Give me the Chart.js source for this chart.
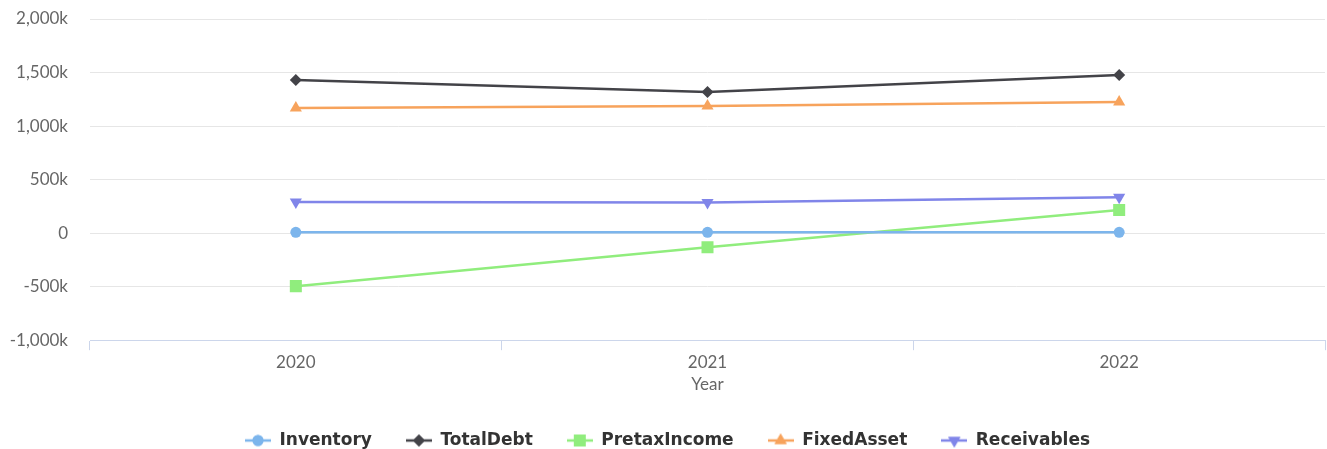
<!DOCTYPE html>
<html>
<head>
<meta charset="utf-8">
<script src="https://cdn.jsdelivr.net/npm/chart.js@4"></script>
<style>
  html, body { margin: 0; padding: 0; background: #fff; }
  #wrap { width: 1327px; height: 449px; position: relative; }
</style>
</head>
<body>
<div id="wrap"><canvas id="chart"></canvas></div>
<script>
const years = ['2020', '2021', '2022'];
const inventory = [8000, 8000, 8000];
const totalDebt = [1430000, 1318000, 1477000];
const pretaxIncome = [-495000, -131000, 215000];
const fixedAsset = [1168000, 1187000, 1224000];
const receivables = [290000, 285000, 336000];
const yTicks = [-1000000, -500000, 0, 500000, 1000000, 1500000, 2000000];

const seriesNames = ['Inventory', 'TotalDebt', 'PretaxIncome', 'FixedAsset', 'Receivables'];
const seriesData = [inventory, totalDebt, pretaxIncome, fixedAsset, receivables];
const colors = ['#7cb5ec', '#434348', '#90ed7d', '#f7a35c', '#8085e9'];
const markers = ['circle', 'rectRot', 'rect', 'triangle', 'triangle'];
const rotations = [0, 0, 0, 0, 180];
const radii = [5.5, 6, 8.5, 7, 7];

// legend symbol: short line with the marker on top, like the original
function legendSymbol(i) {
  const c = document.createElement('canvas');
  c.width = 26; c.height = 16;
  const ctx = c.getContext('2d');
  ctx.strokeStyle = colors[i];
  ctx.lineWidth = 2.5;
  ctx.beginPath(); ctx.moveTo(0, 8); ctx.lineTo(26, 8); ctx.stroke();
  ctx.fillStyle = colors[i];
  Chart.helpers.drawPoint(ctx, {
    pointStyle: markers[i], rotation: rotations[i], radius: radii[i], borderWidth: 0
  }, 13, 8);
  ctx.fill();
  return c;
}

const fmt = v => {
  if (v === 0) return '0';
  return (v / 1000).toLocaleString('en-US') + 'k';
};

const ctxEl = document.getElementById('chart');
new Chart(ctxEl.getContext('2d'), {
  type: 'line',
  data: {
    labels: years,
    datasets: seriesNames.map((name, i) => ({
      label: name,
      data: seriesData[i],
      borderColor: colors[i],
      backgroundColor: colors[i],
      borderWidth: 2.5,
      pointStyle: markers[i],
      rotation: rotations[i],
      pointRadius: radii[i],
      pointBorderWidth: 0,
      tension: 0
    }))
  },
  options: {
    responsive: true,
    maintainAspectRatio: false,
    animation: false,
    layout: { autoPadding: false, padding: { top: 19, left: 10, right: 2, bottom: -10 } },
    plugins: {
      tooltip: { enabled: false },
      legend: {
        position: 'bottom',
        labels: {
          usePointStyle: true,
          pointStyleWidth: 26,
          padding: 34,
          color: '#333333',
          font: { family: 'DejaVu Sans', size: 17, weight: 'bold' },
          generateLabels: chart => chart.data.datasets.map((ds, i) => ({
            text: ds.label,
            pointStyle: legendSymbol(i),
            fillStyle: colors[i],
            strokeStyle: colors[i],
            lineWidth: 0,
            fontColor: '#333333',
            hidden: !chart.isDatasetVisible(i),
            datasetIndex: i
          }))
        }
      }
    },
    scales: {
      x: {
        offset: true,
        grid: {
          offset: true,
          drawOnChartArea: false,
          drawTicks: true,
          tickLength: 10,
          color: '#ccd6eb'
        },
        border: { color: '#ccd6eb', width: 1 },
        ticks: { color: '#666666', font: { family: 'Lato', size: 17 }, padding: 2 },
        title: {
          display: true,
          text: 'Year',
          color: '#666666',
          font: { family: 'Lato', size: 17 },
          padding: { top: 0, bottom: 3 }
        }
      },
      y: {
        min: yTicks[0],
        max: yTicks[yTicks.length - 1],
        afterBuildTicks: axis => { axis.ticks = yTicks.map(v => ({ value: v })); },
        afterFit: axis => {
          axis.width = 80;
          axis.paddingTop = 0;
          axis.paddingBottom = 0;
        },
        grid: { color: '#e6e6e6', drawTicks: false },
        border: { display: false },
        ticks: {
          color: '#666666',
          font: { family: 'Lato', size: 17 },
          padding: 22,
          callback: v => fmt(v)
        }
      }
    }
  }
});
</script>
</body>
</html>
